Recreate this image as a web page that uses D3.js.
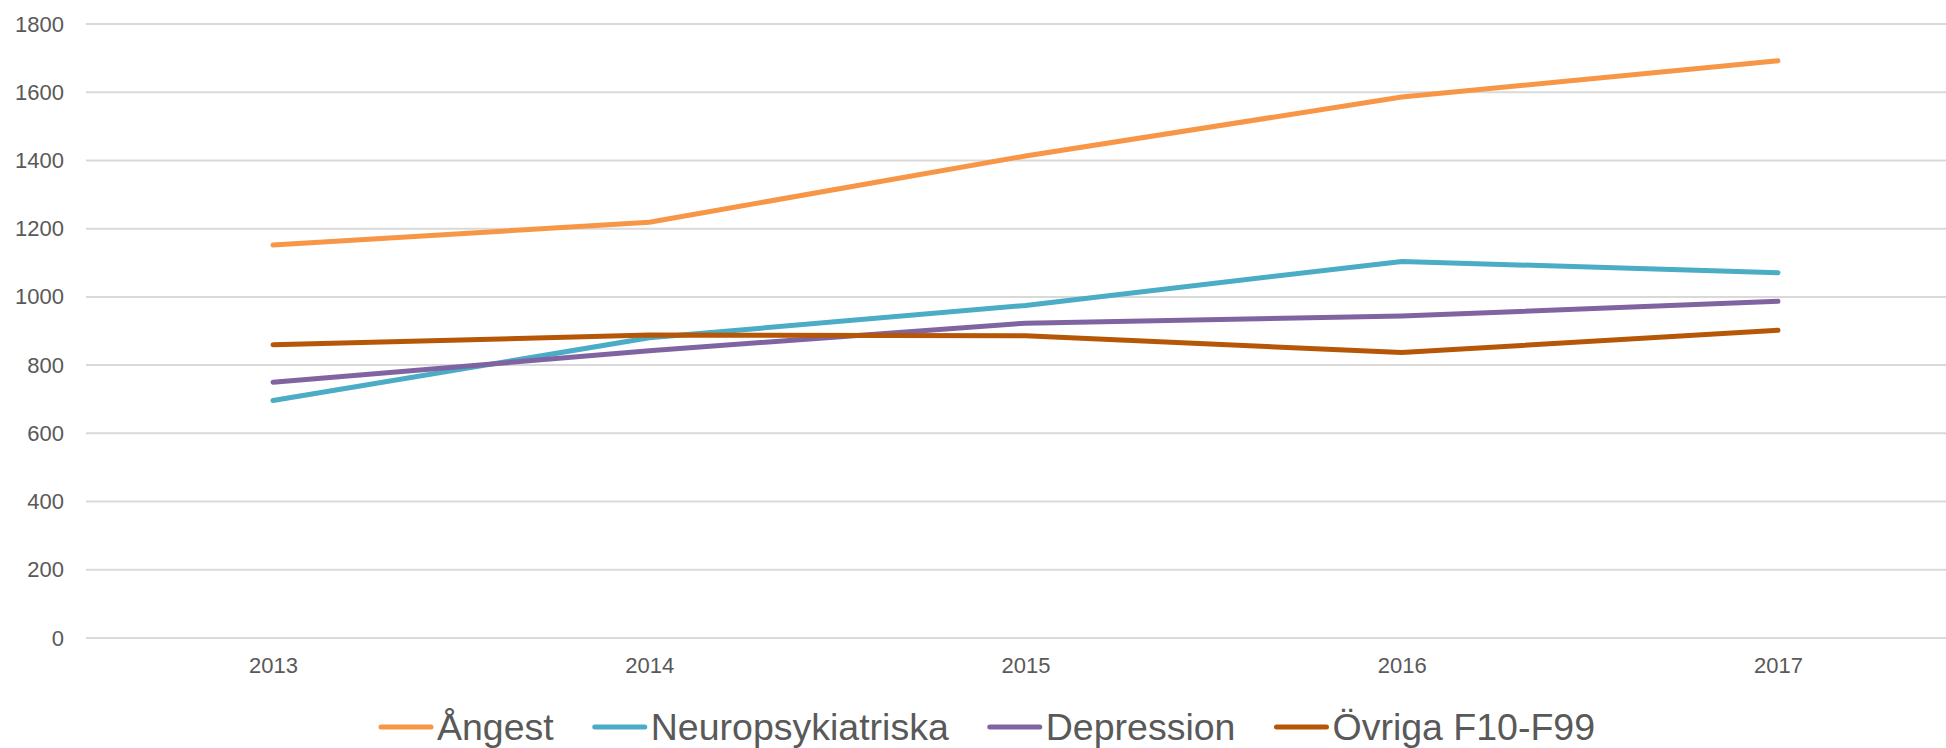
<!DOCTYPE html>
<html>
<head>
<meta charset="utf-8">
<script src="https://cdn.jsdelivr.net/npm/d3@7"></script>
<style>
  body { margin: 0; background: #fff; }
  svg { display: block; font-family: Arial, "Liberation Sans", sans-serif; }
</style>
</head>
<body>
<div id="chart"></div>
<script>
const years = ["2013", "2014", "2015", "2016", "2017"];
const yTicks = [0, 200, 400, 600, 800, 1000, 1200, 1400, 1600, 1800];

const seriesNames = ["Ångest", "Neuropsykiatriska", "Depression", "Övriga F10-F99"];
const seriesColors = ["#F79646", "#4BACC6", "#8064A2", "#B65708"];

const angest = [1152, 1219, 1413, 1586, 1692];
const neuro = [696, 880, 975, 1104, 1071];
const depression = [750, 842, 923, 944, 987];
const ovriga = [860, 888, 886, 837, 902];

const seriesValues = [angest, neuro, depression, ovriga];

const W = 1946, H = 748;
const plotLeft = 86, plotRight = 1946, plotTop = 24, plotBottom = 638;

const svg = d3.select("#chart")
  .append("svg")
  .attr("width", W)
  .attr("height", H);

const x = d3.scalePoint()
  .domain(years)
  .range([273, 1778]);

const y = d3.scaleLinear()
  .domain([0, 1800])
  .range([plotBottom, plotTop]);

// gridlines
svg.append("g")
  .selectAll("line")
  .data(yTicks)
  .enter()
  .append("line")
  .attr("x1", plotLeft)
  .attr("x2", plotRight)
  .attr("y1", d => y(d))
  .attr("y2", d => y(d))
  .attr("stroke", "#D9D9D9")
  .attr("stroke-width", 2);

// y axis labels
const yAxis = svg.append("g")
  .attr("transform", "translate(64,0)")
  .call(d3.axisLeft(y).tickValues(yTicks).tickFormat(d3.format("d")).tickSize(0).tickPadding(0));
yAxis.select(".domain").remove();
yAxis.selectAll("text")
  .attr("fill", "#595959")
  .style("font-size", "22px")
  .style("font-family", "Arial, 'Liberation Sans', sans-serif");

// x axis labels
const xAxis = svg.append("g")
  .attr("transform", `translate(0,${plotBottom + 19})`)
  .call(d3.axisBottom(x).tickSize(0).tickPadding(0));
xAxis.select(".domain").remove();
xAxis.selectAll("text")
  .attr("fill", "#595959")
  .style("font-size", "22px")
  .style("font-family", "Arial, 'Liberation Sans', sans-serif");

const line = d3.line()
  .x((d, i) => x(years[i]))
  .y(d => y(d));

svg.append("g")
  .selectAll("path")
  .data(seriesValues)
  .enter()
  .append("path")
  .attr("d", d => line(d))
  .attr("fill", "none")
  .attr("stroke", (d, i) => seriesColors[i])
  .attr("stroke-width", 5)
  .attr("stroke-linecap", "round")
  .attr("stroke-linejoin", "round");

// legend
const legend = svg.append("g").attr("transform", "translate(0,727)");
let lx = 381;
seriesNames.forEach((name, i) => {
  const item = legend.append("g");
  item.append("line")
    .attr("x1", lx)
    .attr("x2", lx + 50)
    .attr("y1", 0)
    .attr("y2", 0)
    .attr("stroke", seriesColors[i])
    .attr("stroke-width", 5)
    .attr("stroke-linecap", "round");
  const t = item.append("text")
    .attr("x", lx + 56)
    .attr("y", 13)
    .attr("fill", "#595959")
    .style("font-size", "37.5px")
    .text(name);
  lx += 56 + t.node().getComputedTextLength() + 41;
});
</script>
</body>
</html>
